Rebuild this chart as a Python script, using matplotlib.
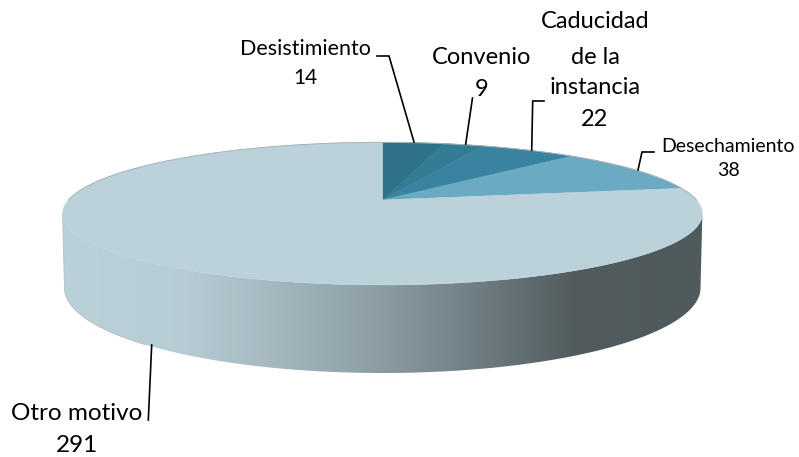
from matplotlib import pyplot as plt
from matplotlib.colors import LinearSegmentedColormap
from matplotlib.patches import Polygon
import numpy as np

plt.rcParams['font.family'] = ['Lato', 'DejaVu Sans']

# chart data
motivos = ["Desistimiento", "Convenio", "Caducidad\nde la\ninstancia", "Desechamiento", "Otro motivo"]
valores = [14, 9, 22, 38, 291]
colores = ["#2f7288", "#337d94", "#3a83a0", "#6aaac3", "#bcd2da"]

# side shading, left to right
sombraX = [0.0, 0.17, 0.30, 0.45, 0.65, 0.80, 1.0]
sombraColor = ["#bad1da", "#b8ced7", "#a9bcc4", "#93a5ac", "#6f7d83", "#525c5e", "#4f5a5c"]

# pixel geometry of the disc
cx, cy = 382.5, 200.0
escalaX, escalaY, persp = 314.0, 68.7, 0.191
bordeY, bordeRy, bordeRx = 288.0, 85.0, 318.0


# circle angle (clockwise from the top) to picture position, with perspective
def proyectar(angulo, radio=1.0):
    u = radio * np.sin(angulo)
    v = radio * np.cos(angulo)
    w = 1 + persp * v
    return cx + escalaX * u / w, cy - escalaY * v / w


fig = plt.figure(figsize=(7.99, 4.57), dpi=100)
ax = fig.add_axes([0, 0, 1, 1])
ax.set_xlim(0, 799)
ax.set_ylim(457, 0)
ax.axis("off")

##--side of the disc--##
t = np.linspace(0, 2 * np.pi, 400)
xTop, yTop = proyectar(t)
tLow = np.linspace(np.pi, 0, 300)
xLow = cx + bordeRx * np.cos(tLow)
yLow = bordeY + bordeRy * np.sin(tLow)
izq = np.argmin(xTop)
der = np.argmax(xTop)
frente = np.arange(der, izq + 1)
lado = np.vstack([np.column_stack([xTop[frente], yTop[frente]]), np.column_stack([xLow, yLow])])

cmap = LinearSegmentedColormap.from_list("sombra", list(zip(sombraX, sombraColor)))
clip = Polygon(lado, closed=True, transform=ax.transData, fc="none", ec="none")
ax.add_patch(clip)
img = ax.imshow(np.linspace(0, 1, 512).reshape(1, -1), cmap=cmap, extent=(62, 703, 400, 190), aspect="auto", zorder=1, interpolation="bilinear")
img.set_clip_path(clip)
ax.set_xlim(0, 799)
ax.set_ylim(457, 0)

# thin grey edge on the left of the side only
ax.plot(xLow[:70], yLow[:70], color="#b4bcc0", lw=0.6, zorder=1.2)
ax.plot([xTop[izq], xLow[0]], [yTop[izq], yLow[0]], color="#b4bcc0", lw=0.6, zorder=1.2)

##--top of the disc--##
acumulado = np.cumsum([0] + valores) / sum(valores) * 2 * np.pi
for i in range(len(valores)):
    a = np.linspace(acumulado[i], acumulado[i + 1], 200)
    xs, ys = proyectar(a)
    puntos = np.column_stack([np.r_[cx, xs], np.r_[cy, ys]])
    ax.add_patch(Polygon(puntos, closed=True, fc=colores[i], ec=colores[i], lw=0.4, zorder=2))

# faint rim on the back of the disc
atras = np.linspace(-np.pi / 2, np.pi / 2, 300)
ax.plot(*proyectar(atras), color="#aab4b8", lw=0.7, zorder=2.1)

##--labels and leader lines--##
lineas = [
    [(377, 56), (389, 56), (414, 142)],
    [(472.5, 98), (465.7, 144)],
    [(544, 101), (532.7, 101), (531.7, 150)],
    [(654, 152), (642, 152), (638, 170)],
    [(151.7, 345), (148.3, 420)],
]
for linea in lineas:
    ax.plot(*zip(*linea), color="black", lw=1.2, zorder=3, solid_joinstyle="miter")

ax.text(305, 49, motivos[0], fontsize=15.5, ha="center", va="center")
ax.text(305, 78, str(valores[0]), fontsize=15, ha="center", va="center")
ax.text(482, 57, motivos[1], fontsize=17, ha="center", va="center")
ax.text(482, 89, str(valores[1]), fontsize=17, ha="center", va="center")
for y, texto in zip([22, 57, 87], motivos[2].split("\n")):
    ax.text(595, y, texto, fontsize=17, ha="center", va="center")
ax.text(595, 119, str(valores[2]), fontsize=17, ha="center", va="center")
ax.text(728, 146, motivos[3], fontsize=14, ha="center", va="center")
ax.text(728, 171, str(valores[3]), fontsize=14, ha="center", va="center")
ax.text(77, 413, motivos[4], fontsize=17.5, ha="center", va="center")
ax.text(77, 446, str(valores[4]), fontsize=17.5, ha="center", va="center")

plt.savefig("out.png", dpi=100)
